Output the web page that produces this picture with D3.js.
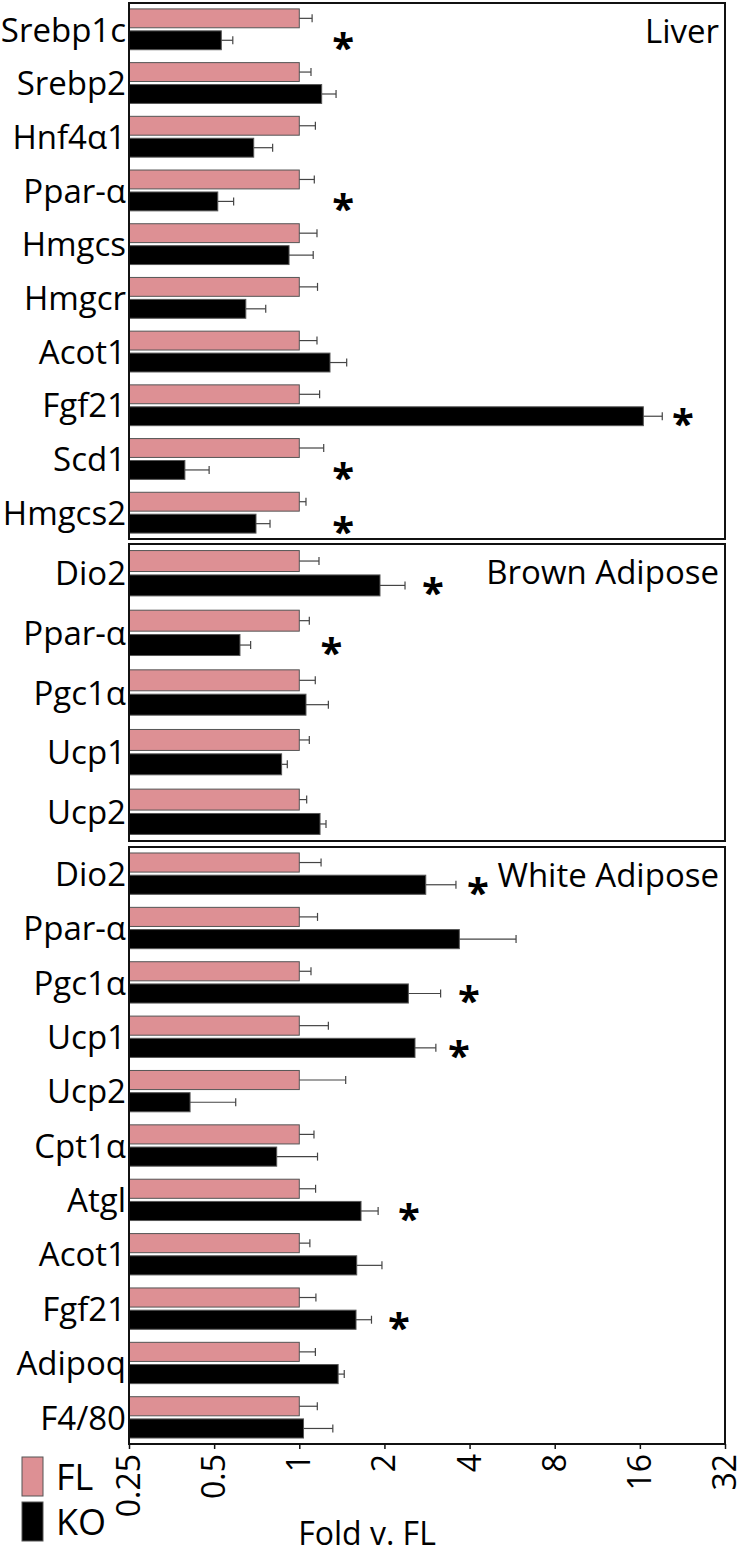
<!DOCTYPE html>
<html>
<head>
<meta charset="utf-8">
<script src="https://cdn.jsdelivr.net/npm/d3@7"></script>
<style>
  body { margin: 0; background: #fff; }
  text { font-family: "Open Sans", sans-serif; fill: #000; }
</style>
</head>
<body>
<svg id="chart"></svg>
<script>
// ---- data (fold change vs FL, sem) ----
const liverGenes = ["Srebp1c", "Srebp2", "Hnf4α1", "Ppar-α", "Hmgcs", "Hmgcr", "Acot1", "Fgf21", "Scd1", "Hmgcs2"];
const liverFL    = [1, 1, 1, 1, 1, 1, 1, 1, 1, 1];
const liverFLSem = [0.11, 0.10, 0.14, 0.13, 0.155, 0.16, 0.155, 0.18, 0.22, 0.056];
const liverKO    = [0.53, 1.20, 0.69, 0.515, 0.92, 0.647, 1.284, 16.46, 0.394, 0.703];
const liverKOSem = [0.052, 0.149, 0.115, 0.071, 0.20, 0.114, 0.187, 2.74, 0.086, 0.085];
const liverStar  = [1.43, null, null, 1.43, null, null, null, 22.7, 1.43, 1.43];

const brownGenes = ["Dio2", "Ppar-α", "Pgc1α", "Ucp1", "Ucp2"];
const brownFL    = [1, 1, 1, 1, 1];
const brownFLSem = [0.174, 0.085, 0.139, 0.085, 0.062];
const brownKO    = [1.929, 0.617, 1.056, 0.866, 1.184];
const brownKOSem = [0.436, 0.056, 0.211, 0.041, 0.059];
const brownStar  = [2.97, 1.30, null, null, null];

const whiteGenes = ["Dio2", "Ppar-α", "Pgc1α", "Ucp1", "Ucp2", "Cpt1α", "Atgl", "Acot1", "Fgf21", "Adipoq", "F4/80"];
const whiteFL    = [1, 1, 1, 1, 1, 1, 1, 1, 1, 1, 1];
const whiteFLSem = [0.194, 0.16, 0.10, 0.267, 0.459, 0.127, 0.142, 0.09, 0.145, 0.14, 0.158];
const whiteKO    = [2.80, 3.68, 2.43, 2.565, 0.411, 0.832, 1.653, 1.596, 1.587, 1.372, 1.035];
const whiteKOSem = [0.78, 2.16, 0.73, 0.475, 0.185, 0.328, 0.247, 0.364, 0.213, 0.07, 0.279];
const whiteStar  = [4.28, null, 3.98, 3.67, null, null, 2.44, null, 2.25, null, null];

const xTicks = [0.25, 0.5, 1, 2, 4, 8, 16, 32];
const groups = ["FL", "KO"];
const colors = {FL: "#dd9094", KO: "#000000"};

// ---- layout ----
const width = 741, height = 1556;
const left = 129, right = 725;

const panels = [
  {title: "Liver", top: 3, bottom: 539, genes: liverGenes, FL: liverFL, FLSem: liverFLSem, KO: liverKO, KOSem: liverKOSem, star: liverStar},
  {title: "Brown Adipose", top: 544, bottom: 841, genes: brownGenes, FL: brownFL, FLSem: brownFLSem, KO: brownKO, KOSem: brownKOSem, star: brownStar},
  {title: "White Adipose", top: 847, bottom: 1444, genes: whiteGenes, FL: whiteFL, FLSem: whiteFLSem, KO: whiteKO, KOSem: whiteKOSem, star: whiteStar}
];

const svg = d3.select("#chart")
    .attr("width", width)
    .attr("height", height);

const x = d3.scaleLog().base(2)
    .domain([0.25, 32])
    .range([left, right]);

panels.forEach(p => {
    const g = svg.append("g");

    const y = d3.scaleBand()
        .domain(p.genes)
        .range([p.top, p.bottom])
        .paddingInner(0.24)
        .paddingOuter(0.11);
    const sub = d3.scaleBand()
        .domain(groups)
        .range([0, y.bandwidth()])
        .paddingInner(0.14);

    const rows = p.genes.map((gene, i) => ({
        gene: gene,
        star: p.star[i],
        bars: groups.map(k => ({gene: gene, key: k, value: p[k][i], sem: p[k + "Sem"][i]}))
    }));

    const row = g.selectAll("g.row").data(rows).join("g")
        .attr("class", "row")
        .attr("transform", d => `translate(0,${y(d.gene)})`);

    // bars
    row.selectAll("rect").data(d => d.bars).join("rect")
        .attr("x", x(0.25))
        .attr("y", d => sub(d.key))
        .attr("width", d => x(d.value) - x(0.25))
        .attr("height", sub.bandwidth())
        .attr("fill", d => colors[d.key])
        .attr("stroke", "#555")
        .attr("stroke-width", 1);

    // error bars (upper only)
    const err = row.selectAll("g.err").data(d => d.bars).join("g")
        .attr("class", "err")
        .attr("stroke", "#444")
        .attr("stroke-width", 1.2);
    err.append("line")
        .attr("x1", d => x(d.value))
        .attr("x2", d => x(d.value + d.sem))
        .attr("y1", d => sub(d.key) + sub.bandwidth() / 2)
        .attr("y2", d => sub(d.key) + sub.bandwidth() / 2);
    err.append("line")
        .attr("x1", d => x(d.value + d.sem))
        .attr("x2", d => x(d.value + d.sem))
        .attr("y1", d => sub(d.key) + sub.bandwidth() / 2 - 4)
        .attr("y2", d => sub(d.key) + sub.bandwidth() / 2 + 4);

    // gene labels
    row.append("text")
        .attr("x", left - 3)
        .attr("y", y.bandwidth() / 2)
        .attr("dy", "0.37em")
        .attr("text-anchor", "end")
        .attr("font-size", 33)
        .text(d => d.gene);

    // significance
    row.filter(d => d.star != null).append("text")
        .attr("x", d => x(d.star))
        .attr("y", sub("KO") + sub.bandwidth() / 2)
        .attr("dy", "0.55em")
        .attr("text-anchor", "middle")
        .attr("font-size", 40)
        .attr("font-weight", "bold")
        .text("*");

    // panel frame + title
    g.append("rect")
        .attr("x", left)
        .attr("y", p.top)
        .attr("width", right - left)
        .attr("height", p.bottom - p.top)
        .attr("fill", "none")
        .attr("stroke", "#111")
        .attr("stroke-width", 2);

    g.append("text")
        .attr("x", right - 6)
        .attr("y", p.top + 40)
        .attr("text-anchor", "end")
        .attr("font-size", 33)
        .text(p.title);
});

// x axis under the last panel
const last = panels[panels.length - 1];
const axis = svg.append("g")
    .attr("transform", `translate(0,${last.bottom})`)
    .call(d3.axisBottom(x)
        .tickValues(xTicks)
        .tickFormat(d => String(d))
        .tickSize(5)
        .tickSizeOuter(0));
axis.select(".domain").remove();
axis.selectAll(".tick line").attr("stroke", "#111").attr("stroke-width", 1.5);
axis.selectAll(".tick text")
    .attr("transform", "rotate(-90)")
    .attr("text-anchor", "end")
    .attr("x", -10)
    .attr("y", 0)
    .attr("dy", "0.33em")
    .attr("font-size", 32)
    .attr("font-family", "Open Sans, sans-serif")
    .attr("fill", "#000");

svg.append("text")
    .attr("x", 367)
    .attr("y", 1545)
    .attr("text-anchor", "middle")
    .attr("font-size", 32)
    .text("Fold v. FL");

// legend
const legend = svg.append("g").selectAll("g").data(groups).join("g")
    .attr("transform", (d, i) => `translate(22,${1457 + i * 45})`);
legend.append("rect")
    .attr("width", 21)
    .attr("height", 39)
    .attr("fill", d => colors[d])
    .attr("stroke", "#555");
legend.append("text")
    .attr("x", 34)
    .attr("y", 33)
    .attr("font-size", 36)
    .text(d => d);
</script>
</body>
</html>
